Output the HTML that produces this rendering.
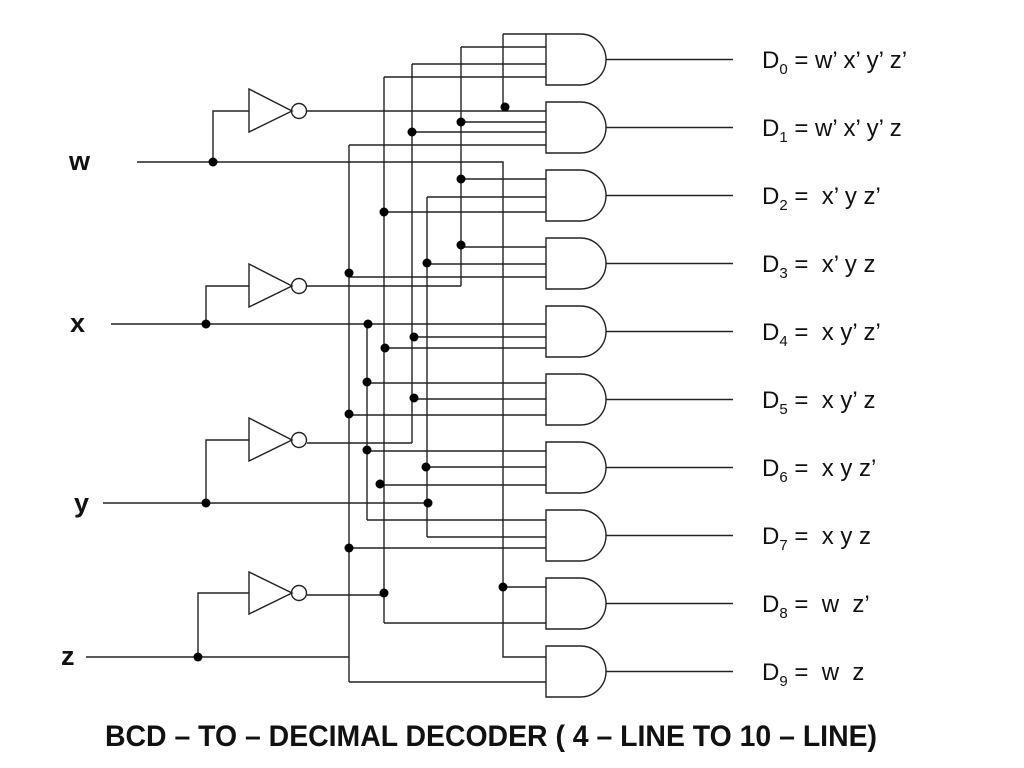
<!DOCTYPE html>
<html><head><meta charset="utf-8"><style>
html,body{margin:0;padding:0;background:#fff;}
svg{display:block;}
text{font-family:"Liberation Sans",sans-serif;fill:#111;white-space:pre;}
</style></head><body>
<svg width="1024" height="768" viewBox="0 0 1024 768" xmlns="http://www.w3.org/2000/svg" xml:space="preserve">
<g stroke="#222" stroke-width="1.4" fill="none">
<path d="M546,34 H580.5 A25.5,25.5 0 0 1 580.5,85 H546 Z"/>
<path d="M546,102 H580.5 A25.5,25.5 0 0 1 580.5,153 H546 Z"/>
<path d="M546,170 H580.5 A25.5,25.5 0 0 1 580.5,221 H546 Z"/>
<path d="M546,238 H580.5 A25.5,25.5 0 0 1 580.5,289 H546 Z"/>
<path d="M546,306 H580.5 A25.5,25.5 0 0 1 580.5,357 H546 Z"/>
<path d="M546,374 H580.5 A25.5,25.5 0 0 1 580.5,425 H546 Z"/>
<path d="M546,442 H580.5 A25.5,25.5 0 0 1 580.5,493 H546 Z"/>
<path d="M546,510 H580.5 A25.5,25.5 0 0 1 580.5,561 H546 Z"/>
<path d="M546,578 H580.5 A25.5,25.5 0 0 1 580.5,629 H546 Z"/>
<path d="M546,646 H580.5 A25.5,25.5 0 0 1 580.5,697 H546 Z"/>
<path d="M606,59.5H733 M606,127.5H733 M606,195.5H733 M606,263.5H733 M606,331.5H733 M606,399.5H733 M606,467.5H733 M606,535.5H733 M606,603.5H733 M606,671.5H733"/>
<path d="M249,89 L292,111 L249,132 Z"/><circle cx="299" cy="111" r="7.5"/>
<path d="M249,264 L292,286 L249,307 Z"/><circle cx="299" cy="286" r="7.5"/>
<path d="M249,418 L292,440 L249,461 Z"/><circle cx="299" cy="440" r="7.5"/>
<path d="M249,572 L292,593 L249,614 Z"/><circle cx="299" cy="593" r="7.5"/>
<path d="M137,162 H503 V657 H546 M213,162 V111 H249"/>
<path d="M111,324 H546 M206,324 V286 H249"/>
<path d="M103,503 H427 M206,503 V440 H249"/>
<path d="M86,657 H349 M198,657 V593 H249"/>
<path d="M307,111 H546"/>
<path d="M307,286 H461"/>
<path d="M307,443 H412"/>
<path d="M307,595 H384"/>
<path d="M503,34 V111 M461,47 V286 M412,64 V443 M384,77 V623 M349,145 V682 M367,324 V520 M427,197 V537"/>
<path d="M503,34H546 M461,47H546 M412,64H546 M384,77H546"/>
<path d="M461,122H546 M412,132H546 M349,145H546"/>
<path d="M461,179H546 M427,197H546 M384,212H546"/>
<path d="M461,247H546 M427,264H546 M349,277H546"/>
<path d="M412,337H546 M384,348H546"/>
<path d="M367,383H546 M412,399H546 M349,415H546"/>
<path d="M367,451H546 M427,467H546 M384,485H546"/>
<path d="M367,520H546 M427,537H546 M349,548H546"/>
<path d="M503,587H546 M384,623H546"/>
<path d="M349,682H546"/>
</g>
<g fill="#000">
<circle cx="213" cy="162" r="4.5"/><circle cx="206" cy="324" r="4.5"/><circle cx="206" cy="503" r="4.5"/><circle cx="198" cy="657" r="4.5"/>
<circle cx="505" cy="107" r="4.5"/>
<circle cx="461" cy="122" r="4.5"/><circle cx="412" cy="132" r="4.5"/>
<circle cx="461" cy="179" r="4.5"/><circle cx="384" cy="212" r="4.5"/>
<circle cx="461" cy="245" r="4.5"/><circle cx="427" cy="263" r="4.5"/><circle cx="349" cy="273" r="4.5"/>
<circle cx="368" cy="324" r="4.5"/><circle cx="414" cy="337" r="4.5"/><circle cx="385" cy="348" r="4.5"/>
<circle cx="367" cy="382" r="4.5"/><circle cx="414" cy="398" r="4.5"/><circle cx="349" cy="414" r="4.5"/>
<circle cx="367" cy="450" r="4.5"/><circle cx="426" cy="467" r="4.5"/><circle cx="380" cy="484" r="4.5"/>
<circle cx="428" cy="503" r="4.5"/><circle cx="349" cy="548" r="4.5"/>
<circle cx="503" cy="587" r="4.5"/><circle cx="384" cy="593" r="4.5"/>
</g>
<g font-weight="bold" font-size="27">
<text x="69" y="170">w</text>
<text x="70" y="332">x</text>
<text x="74" y="512">y</text>
<text x="61" y="665">z</text>
</g>
<g font-size="24">
<text x="762" y="68">D<tspan font-size="15" dy="6">0</tspan><tspan dy="-6"> = w’ x’ y’ z’</tspan></text>
<text x="762" y="136">D<tspan font-size="15" dy="6">1</tspan><tspan dy="-6"> = w’ x’ y’ z</tspan></text>
<text x="762" y="204">D<tspan font-size="15" dy="6">2</tspan><tspan dy="-6"> =  x’ y z’</tspan></text>
<text x="762" y="272">D<tspan font-size="15" dy="6">3</tspan><tspan dy="-6"> =  x’ y z</tspan></text>
<text x="762" y="340">D<tspan font-size="15" dy="6">4</tspan><tspan dy="-6"> =  x y’ z’</tspan></text>
<text x="762" y="408">D<tspan font-size="15" dy="6">5</tspan><tspan dy="-6"> =  x y’ z</tspan></text>
<text x="762" y="476">D<tspan font-size="15" dy="6">6</tspan><tspan dy="-6"> =  x y z’</tspan></text>
<text x="762" y="544">D<tspan font-size="15" dy="6">7</tspan><tspan dy="-6"> =  x y z</tspan></text>
<text x="762" y="612">D<tspan font-size="15" dy="6">8</tspan><tspan dy="-6"> =  w  z’</tspan></text>
<text x="762" y="680">D<tspan font-size="15" dy="6">9</tspan><tspan dy="-6"> =  w  z</tspan></text>
</g>
<text x="105" y="746" font-size="30" font-weight="bold" textLength="772" lengthAdjust="spacingAndGlyphs">BCD – TO – DECIMAL DECODER ( 4 – LINE TO 10 – LINE)</text>
</svg>
</body></html>
